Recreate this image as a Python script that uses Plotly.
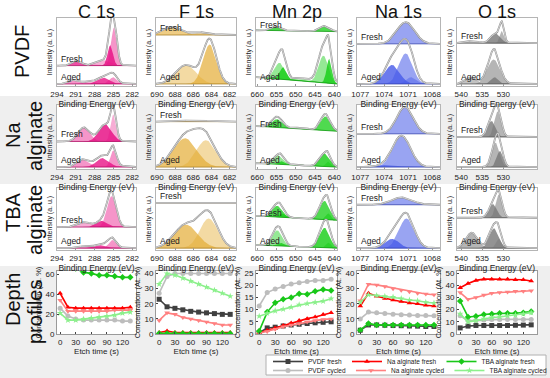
import numpy as np
import plotly.graph_objects as go

W, H = 550, 378

# ---------------- depth profile data (At. %) ----------------
ETCH_TIME = [0, 15, 30, 45, 60, 75, 90, 105, 120, 135]
SERIES = ["PVDF fresh", "PVDF cycled", "Na alginate fresh",
          "Na alginate cycled", "TBA alginate fresh", "TBA alginate cycled"]
DEPTH_C = [
    [67, 66, 66, 67, 67, 67, 68, 68, 68, 68],
    [26, 18, 15, 14, 14, 14, 14, 14, 13, 13],
    [41, 27, 26, 26, 26, 26, 26, 26, 26, 27],
    [34, 23, 23, 23, 23, 23, 23, 24, 24, 24],
    [68, 69, 66, 62, 61, 59, 59, 58, 57, 57],
    [21, 14, 14, 15, 16, 17, 18, 19, 21, 22],
]
DEPTH_F = [
    [23, 18, 17, 16, 15, 14.5, 14, 13.5, 13, 13],
    [27, 38, 40, 40, 40, 40, 40, 40, 40, 40],
    [1, 2, 1, 1, 1, 1, 1, 1, 1, 1],
    [9, 14, 13, 11, 10, 9, 8, 7, 6, 6],
    [0.4, 0.4, 0.4, 0.4, 0.4, 0.4, 0.4, 0.4, 0.4, 0.4],
    [33, 40, 39, 37, 35, 33, 31, 29, 27, 25],
]
DEPTH_MN = [
    [0.5, 2.5, 2.8, 3.3, 3.7, 4.0, 4.3, 4.6, 4.8, 5.0],
    [11.5, 17, 18.5, 19.5, 20.5, 21, 21.5, 22, 22, 22.5],
    [0.5, 1.5, 2.5, 3.5, 4.5, 5.5, 6.3, 7.0, 8.0, 8.7],
    [0.3, 1.0, 2.0, 3.0, 3.7, 4.3, 5.0, 5.5, 6.0, 6.2],
    [1.2, 9.0, 12.8, 14.3, 15.0, 16.5, 16.3, 17.5, 18.3, 17.8],
    [7.3, 8.5, 9.5, 10.2, 11.0, 12.0, 12.5, 13.0, 13.5, 14.5],
]
DEPTH_NA = [
    [2.5, 6, 6, 5.8, 5.6, 5.5, 5.3, 5.2, 5, 5],
    [10, 14.5, 14, 13.5, 13, 12.8, 12.5, 12.3, 12.2, 12],
    [18.5, 27, 25, 23.5, 22.5, 21.5, 20.5, 20, 19, 18.5],
    [22, 33, 32.5, 31.5, 30, 29, 28, 27, 26.5, 26],
    [2.5, 7, 6, 6, 6, 6, 6, 6, 6, 6],
    [21, 26, 25.5, 25, 24.5, 23.5, 22.5, 22, 21, 20.5],
]
DEPTH_O = [
    [5, 6.5, 7, 7, 7, 7, 7, 7.2, 7.3, 7.5],
    [15, 11, 11, 11.5, 12, 12, 12, 12, 12, 12],
    [38, 41.5, 44, 45, 45, 45, 45, 44.5, 44.5, 43.5],
    [34, 28.5, 30, 32, 33.5, 34, 34.5, 35, 35, 35.5],
    [27, 14, 14.5, 16, 16.5, 17, 17, 17, 17.5, 18.5],
    [16.5, 10, 11, 12.5, 13.5, 14, 15, 15.5, 16.5, 17.5],
]
DEPTH_TICKS = [[0, 20, 40, 60], [0, 10, 20, 30, 40], [0, 5, 10, 15, 20, 25],
               [0, 10, 20, 30, 40], [0, 10, 20, 30, 40, 50]]

# ---------------- XPS spectra: fitted components (centre eV, height, FWHM eV) ----------------
# heights are fractions of the panel height above the spectrum baseline
ELEMENTS = ["C 1s", "F 1s", "Mn 2p", "Na 1s", "O 1s"]
ROW_LABEL_TEXT = [["PVDF"], ["Na", "alginate"], ["TBA", "alginate"], ["Depth", "profiles"]]
BE_TICKS = [[294, 291, 288, 285, 282], [690, 688, 686, 684, 682],
            [660, 655, 650, 645, 640], [1077, 1074, 1071, 1068], [540, 535, 530]]

# C 1s
C_PVDF_FRESH = [(284.9, 0.56, 1.1), (285.5, 0.30, 1.0), (286.6, 0.08, 2.5), (290.8, 0.07, 1.8)]
C_PVDF_AGED = [(291.3, 0.06, 2.0), (286.5, 0.09, 2.2), (285.0, 0.10, 1.4), (288.8, 0.04, 2.0)]
C_NA_FRESH = [(289.7, 0.22, 2.2), (286.3, 0.27, 2.4), (285.0, 0.42, 1.0)]
C_NA_AGED = [(289.8, 0.12, 2.2), (286.7, 0.14, 2.4), (285.0, 0.26, 1.1)]
C_TBA_FRESH = [(285.3, 0.50, 1.7), (286.8, 0.10, 2.0), (289.6, 0.08, 2.4)]
C_TBA_AGED = [(285.1, 0.13, 1.4), (286.8, 0.05, 2.0), (289.2, 0.04, 2.5)]
# F 1s
F_PVDF_FRESH = [(688.3, 0.12, 2.4), (685.0, 0.04, 2.0)]
F_PVDF_AGED = [(684.2, 0.58, 1.7), (686.8, 0.28, 2.6)]
F_NA_FRESH = [(686.0, 0.02, 3.5)]
F_NA_AGED = [(686.9, 0.45, 3.0), (684.6, 0.42, 2.5)]
F_TBA_FRESH = [(686.0, 0.01, 3.0)]
F_TBA_AGED = [(686.8, 0.38, 3.0), (684.3, 0.48, 2.3)]
# Mn 2p
MN_PVDF_FRESH = [(655.0, 0.06, 3.0), (642.5, 0.08, 3.0)]
MN_PVDF_AGED = [(654.2, 0.24, 3.0), (653.2, 0.18, 2.0), (642.8, 0.40, 3.0), (641.3, 0.36, 1.6), (648.0, 0.04, 5.0)]
MN_NA_FRESH = [(654.8, 0.13, 3.2), (642.3, 0.22, 2.8), (648.5, 0.02, 4.0)]
MN_NA_AGED = [(654.5, 0.14, 3.0), (642.5, 0.20, 3.0), (641.5, 0.08, 1.5), (653.5, 0.05, 2.0)]
MN_TBA_FRESH = [(654.8, 0.18, 3.0), (642.5, 0.30, 3.0), (641.5, 0.10, 1.5), (653.5, 0.06, 2.0)]
MN_TBA_AGED = [(654.8, 0.25, 3.0), (642.5, 0.32, 3.0), (641.5, 0.08, 1.5), (653.5, 0.05, 2.0)]
# Na 1s
NA_PVDF_FRESH = [(1071.3, 0.32, 2.6)]
NA_PVDF_AGED = [(1071.3, 0.45, 2.0), (1073.0, 0.28, 2.2), (1070.6, 0.10, 1.5)]
NA_NA_FRESH = [(1071.4, 0.42, 2.4)]
NA_NA_AGED = [(1071.8, 0.48, 2.6), (1073.5, 0.03, 3.0)]
NA_TBA_FRESH = [(1071.8, 0.12, 3.0)]
NA_TBA_AGED = [(1071.2, 0.48, 2.2), (1073.0, 0.15, 2.0)]
# O 1s
O_PVDF_FRESH = [(530.3, 0.18, 1.2), (531.8, 0.15, 2.6), (537.5, 0.03, 4.0)]
O_PVDF_AGED = [(532.3, 0.36, 3.5), (532.0, 0.10, 2.0), (537.8, 0.09, 3.0)]
O_NA_FRESH = [(531.3, 0.40, 1.9), (532.8, 0.25, 2.2)]
O_NA_AGED = [(531.8, 0.38, 2.2), (530.8, 0.25, 1.8)]
O_TBA_FRESH = [(531.0, 0.38, 1.8), (532.5, 0.22, 2.2)]
O_TBA_AGED = [(537.5, 0.25, 3.2), (532.2, 0.32, 2.6), (531.0, 0.15, 1.5)]

# measured envelope excess above the fit sum (centre, height, FWHM)
ENV_EXTRA = {
    (0, 0, 0): [(285.0, 0.06, 1.0)], (0, 0, 1): [(285.5, 0.04, 2.5)],
    (1, 0, 0): [(285.0, 0.05, 1.0)], (1, 0, 1): [(286.0, 0.05, 4.0)],
    (2, 0, 0): [(285.3, 0.06, 1.5)], (2, 0, 1): [(285.5, 0.04, 2.0)],
    (0, 1, 1): [(684.2, 0.07, 2.0)], (1, 1, 1): [(685.7, 0.07, 3.0)], (2, 1, 1): [(684.5, 0.07, 2.5)],
    (0, 2, 1): [(642.5, 0.15, 3.5), (654.5, 0.08, 3.5)],
    (1, 2, 0): [(642.3, 0.04, 3.0), (654.8, 0.04, 3.0)],
    (2, 2, 0): [(642.3, 0.05, 3.0), (654.5, 0.03, 3.0)], (2, 2, 1): [(642.3, 0.10, 3.2), (654.5, 0.05, 3.0)],
    (0, 3, 1): [(1072.0, 0.12, 3.0)], (2, 3, 1): [(1071.8, 0.08, 3.0)],
    (0, 4, 0): [(530.3, 0.08, 1.2)], (0, 4, 1): [(532.5, 0.06, 3.0)],
    (1, 4, 0): [(531.5, 0.05, 2.0)], (2, 4, 1): [(532.0, 0.05, 3.0)],
}

SPECTRA = {
    (0, 0): (C_PVDF_FRESH, C_PVDF_AGED), (1, 0): (C_NA_FRESH, C_NA_AGED), (2, 0): (C_TBA_FRESH, C_TBA_AGED),
    (0, 1): (F_PVDF_FRESH, F_PVDF_AGED), (1, 1): (F_NA_FRESH, F_NA_AGED), (2, 1): (F_TBA_FRESH, F_TBA_AGED),
    (0, 2): (MN_PVDF_FRESH, MN_PVDF_AGED), (1, 2): (MN_NA_FRESH, MN_NA_AGED), (2, 2): (MN_TBA_FRESH, MN_TBA_AGED),
    (0, 3): (NA_PVDF_FRESH, NA_PVDF_AGED), (1, 3): (NA_NA_FRESH, NA_NA_AGED), (2, 3): (NA_TBA_FRESH, NA_TBA_AGED),
    (0, 4): (O_PVDF_FRESH, O_PVDF_AGED), (1, 4): (O_NA_FRESH, O_NA_AGED), (2, 4): (O_TBA_FRESH, O_TBA_AGED),
}

# ---------------- styling / geometry ----------------
COL_PX = [(57, 136), (156, 236), (256, 337), (357, 440), (457, 537)]
ROW_PX = [(18, 86), (105, 169), (188, 250), (271, 334)]
X_RANGES = [(294, 281.4), (690.1, 681.3), (660.3, 639.3), (1077.4, 1067.0), (541.0, 522.0)]
FRESH_BASE = [[0.30, 0.75, 0.80, 0.62, 0.63],
              [0.43, 0.74, 0.59, 0.55, 0.50],
              [0.37, 0.76, 0.48, 0.73, 0.52]]
AGED_BASE = 0.03
# linear sloping backgrounds (left, right) for Mn 2p
BG = {(0, 2, 1): (0.10, 0.0), (1, 2, 0): (0.08, 0.0), (1, 2, 1): (0.06, 0.0),
      (2, 2, 0): (0.07, 0.0), (2, 2, 1): (0.05, 0.0), (0, 2, 0): (0.02, 0.0)}
EL_RGB = [(232, 20, 135), (228, 172, 52), (20, 205, 20), (70, 90, 232), (120, 120, 120)]
SHADES = {  # alpha per component
    0: [[0.45, 0.85, 0.35, 0.75], [0.45, 0.8, 0.45, 0.35]],
    1: [[0.6, 0.4], [0.7, 0.45]],
    2: [[0.75, 0.75, 0.55], [0.45, 0.8, 0.45, 0.8, 0.3]],
}
DEFAULT_ALPHAS = [0.55, 0.8, 0.45, 0.8, 0.4]
DEPTH_COLORS = ["#404040", "#bdbdbd", "#ff0000", "#ff8080", "#19c819", "#8cf08c"]
DEPTH_SYMBOLS = ["square", "circle", "triangle-up", "triangle-down", "diamond", "star"]
LEGEND_OF = ["legend", "legend2", "legend", "legend2", "legend", "legend2"]
FONT = "Liberation Sans, Arial, sans-serif"
# row label line positions (x px, y px) per line
ROW_LABEL_POS = [[(22, 52)], [(13, 135), (35, 136)], [(13, 212), (35, 220)], [(13, 300), (35, 312)]]


def xd(p0, p1):
    return [p0 / W, p1 / W]


def yd(p0, p1):
    return [1 - p1 / H, 1 - p0 / H]


def gauss(x, c, h, w):
    return h * np.exp(-4 * np.log(2) * (x - c) ** 2 / w ** 2)


def rgba(rgb, a):
    return "rgba(%d,%d,%d,%.2f)" % (rgb[0], rgb[1], rgb[2], a)


fig = go.Figure()
layout = {}
shapes = []
annotations = []

# background bands for rows 2 and 4
shapes.append(dict(type="rect", xref="paper", yref="paper", x0=0, x1=1,
                   y0=1 - 184 / H, y1=1 - 96 / H, fillcolor="#efefef", line_width=0, layer="below"))
shapes.append(dict(type="rect", xref="paper", yref="paper", x0=0, x1=1,
                   y0=0, y1=1 - 266 / H, fillcolor="#efefef", line_width=0, layer="below"))

for r in range(3):
    for c in range(5):
        n = r * 5 + c + 1
        xs = "" if n == 1 else str(n)
        x_hi, x_lo = X_RANGES[c]
        grid = np.linspace(x_lo, x_hi, 400)
        rgb = EL_RGB[c]
        dark = tuple(int(v * 0.75) for v in rgb)
        for s, base_level in enumerate([FRESH_BASE[r][c], AGED_BASE]):
            comps = SPECTRA[(r, c)][s]
            bl, br = BG.get((r, c, s), (0.0, 0.0))
            base = base_level + br + (bl - br) * (grid - x_lo) / (x_hi - x_lo)
            alphas = SHADES[c][s] if c in SHADES else DEFAULT_ALPHAS
            total = np.zeros_like(grid)
            for k, (cen, hgt, fw) in enumerate(comps):
                g = gauss(grid, cen, hgt, fw)
                total += g
                a = alphas[k % len(alphas)]
                fig.add_trace(go.Scatter(
                    x=np.concatenate([grid, grid[::-1]]),
                    y=np.concatenate([base + g, base[::-1]]),
                    fill="toself", fillcolor=rgba(rgb, a), line=dict(width=0),
                    mode="lines", hoverinfo="skip", showlegend=False,
                    xaxis="x" + xs, yaxis="y" + xs))
            env = base + total
            for (cen, hgt, fw) in ENV_EXTRA.get((r, c, s), []):
                env = env + gauss(grid, cen, hgt, fw)
            fig.add_trace(go.Scatter(x=grid, y=base, mode="lines", line=dict(color=rgba(dark, 1), width=0.8),
                                     hoverinfo="skip", showlegend=False, xaxis="x" + xs, yaxis="y" + xs))
            fig.add_trace(go.Scatter(x=grid, y=env, mode="lines", line=dict(color="#8f8f8f", width=1.8),
                                     hoverinfo="skip", showlegend=False, xaxis="x" + xs, yaxis="y" + xs))
            fig.add_trace(go.Scatter(x=grid, y=env, mode="lines", line=dict(color="#ffffff", width=0.6),
                                     hoverinfo="skip", showlegend=False, xaxis="x" + xs, yaxis="y" + xs))
            annotations.append(dict(text="Fresh" if s == 0 else "Aged", xref="x%s domain" % xs, yref="y" + xs,
                                    x=0.03, y=base_level, xanchor="left", yanchor="bottom",
                                    showarrow=False, font=dict(size=8.5, color="#222", family=FONT)))
        p0, p1 = COL_PX[c]
        q0, q1 = ROW_PX[r]
        if r == 1:
            shapes.append(dict(type="rect", xref="paper", yref="paper", x0=p0 / W, x1=p1 / W,
                               y0=1 - q1 / H, y1=1 - q0 / H, fillcolor="white", line_width=0, layer="below"))
        layout["xaxis" + xs] = dict(domain=xd(p0, p1), range=[x_hi, x_lo], tickvals=BE_TICKS[c],
                                    ticks="inside", ticklen=2, tickcolor="#999", automargin=False,
                                    tickfont=dict(size=8, color="#222"), showline=True, mirror=True,
                                    linecolor="#b5b5b5", linewidth=1, showgrid=False, zeroline=False,
                                    anchor="y" + xs,
                                    title=dict(text="Binding Energy (eV)", font=dict(size=8.5, color="#222"),
                                               standoff=0))
        layout["yaxis" + xs] = dict(domain=yd(q0, q1), range=[0, 1], showticklabels=False, ticks="",
                                    showline=True, mirror=True, linecolor="#b5b5b5", linewidth=1,
                                    showgrid=False, zeroline=False, anchor="x" + xs, automargin=False,
                                    title=dict(text="Intensity (a. u.)", font=dict(size=7, color="#222"),
                                               standoff=2))

# depth profiles
DEPTH = [DEPTH_C, DEPTH_F, DEPTH_MN, DEPTH_NA, DEPTH_O]
for c in range(5):
    n = 16 + c
    xs = str(n)
    for i in range(6):
        fig.add_trace(go.Scatter(
            x=ETCH_TIME, y=DEPTH[c][i], mode="lines+markers", name=SERIES[i],
            line=dict(color=DEPTH_COLORS[i], width=1.6),
            marker=dict(symbol=DEPTH_SYMBOLS[i], size=5, color=DEPTH_COLORS[i]),
            showlegend=(c == 0), legend=LEGEND_OF[i],
            xaxis="x" + xs, yaxis="y" + xs))
    p0, p1 = COL_PX[c]
    q0, q1 = ROW_PX[3]
    shapes.append(dict(type="rect", xref="paper", yref="paper", x0=p0 / W, x1=p1 / W,
                       y0=1 - q1 / H, y1=1 - q0 / H, fillcolor="white", line_width=0, layer="below"))
    ticks = DEPTH_TICKS[c]
    ymax = ticks[-1] + (ticks[1] - ticks[0]) * 0.17
    layout["xaxis" + xs] = dict(domain=xd(p0, p1), range=[-6, 146], tickvals=[0, 30, 60, 90, 120],
                                ticks="inside", ticklen=2, tickfont=dict(size=8, color="#222"),
                                showline=True, mirror=True, linecolor="#9a9a9a", showgrid=False,
                                zeroline=False, anchor="y" + xs, automargin=False,
                                title=dict(text="Etch time (s)", font=dict(size=8, color="#222"), standoff=0))
    layout["yaxis" + xs] = dict(domain=yd(q0, q1), range=[0, ymax], tickvals=ticks,
                                ticks="inside", ticklen=2, tickfont=dict(size=8, color="#222"),
                                showline=True, mirror=True, linecolor="#9a9a9a", showgrid=False,
                                zeroline=False, anchor="x" + xs, automargin=False,
                                title=dict(text="Concentration (At. %)", font=dict(size=7.5, color="#222"),
                                           standoff=2))

# legend frame
LEG_X0 = 268
shapes.append(dict(type="rect", xref="paper", yref="paper", x0=(LEG_X0 - 2) / W, x1=546 / W,
                   y0=1 - 375 / H, y1=1 - 355 / H, fillcolor="white", line=dict(color="#b0b0b0", width=1),
                   layer="below"))

# column titles
for c, name in enumerate(ELEMENTS):
    p0, p1 = COL_PX[c]
    annotations.append(dict(text=name, xref="paper", yref="paper", x=(p0 + p1) / 2 / W, y=1 - 12 / H,
                            xanchor="center", yanchor="middle",
                            showarrow=False, font=dict(size=18, color="#111", family=FONT)))
# row labels (one annotation per line)
for lines, poss in zip(ROW_LABEL_TEXT, ROW_LABEL_POS):
    for txt, (px, py) in zip(lines, poss):
        annotations.append(dict(text=txt, xref="paper", yref="paper", x=px / W, y=1 - py / H, textangle=-90,
                                xanchor="center", yanchor="middle",
                                showarrow=False, font=dict(size=20, color="#111", family=FONT)))

leg_common = dict(orientation="h", xanchor="left", yanchor="top", font=dict(size=6.5, color="#222"),
                  itemwidth=30, bgcolor="rgba(0,0,0,0)", borderwidth=0, tracegroupgap=0)
fig.update_layout(
    width=W, height=H, margin=dict(l=0, r=0, t=0, b=0, autoexpand=False),
    paper_bgcolor="white", plot_bgcolor="white",
    font=dict(family=FONT, color="#222"), shapes=shapes, annotations=annotations,
    legend=dict(x=LEG_X0 / W, y=1 - 347 / H, **leg_common),
    legend2=dict(x=LEG_X0 / W, y=1 - 356 / H, **leg_common),
    **layout)

fig.write_html("out.html", config={"displayModeBar": False},
               post_script="document.body.style.margin='0';document.body.style.overflow='hidden';")
